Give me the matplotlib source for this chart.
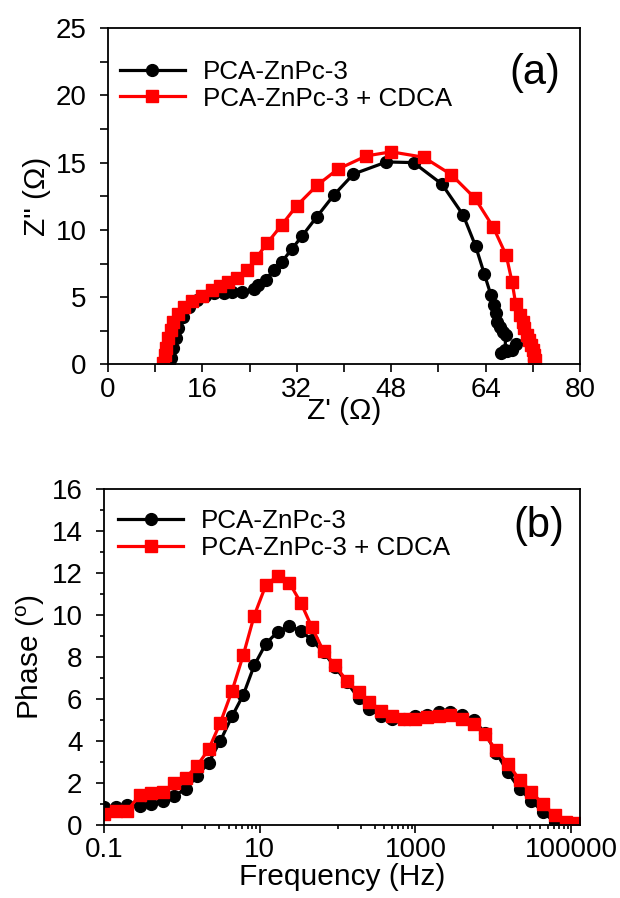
import matplotlib
matplotlib.use('Agg')
import matplotlib.pyplot as plt
from matplotlib.ticker import MultipleLocator, FixedLocator, FixedFormatter, NullFormatter

plt.rcParams['font.family'] = ['Liberation Sans', 'DejaVu Sans']

# (a) Nyquist data
zre_blk = [10.3, 10.7, 11.1, 11.5, 11.9, 12.7, 13.8, 15.0, 16.5, 17.9, 19.6, 21.0, 22.7, 24.7,
           25.5, 26.7, 28.1, 29.5, 31.2, 32.9, 35.4, 38.3, 41.6, 47.2, 51.8, 56.6, 60.2, 62.3,
           63.8, 64.9, 65.4, 65.7, 66.0, 66.5, 66.9, 67.4, 67.3, 66.6, 67.6, 68.5, 69.1]
zim_blk = [0.0, 0.5, 1.25, 2.0, 2.7, 3.5, 4.3, 4.8, 5.1, 5.3, 5.3, 5.35, 5.35, 5.6,
           5.9, 6.3, 7.0, 7.65, 8.6, 9.55, 10.98, 12.6, 14.15, 15.05, 15.0, 13.4, 11.1, 8.8,
           6.7, 5.16, 4.42, 3.8, 3.18, 2.81, 2.44, 2.19, 1.1, 0.83, 0.98, 1.1, 1.52]
zre_red = [9.4, 9.7, 9.9, 10.25, 10.6, 11.1, 11.9, 12.9, 14.3, 15.9, 17.6, 18.9, 20.4, 21.85,
           23.55, 25.1, 26.95, 29.5, 32.0, 35.4, 38.9, 43.8, 48.0, 53.5, 58.2, 62.2, 65.3,
           67.5, 68.5, 69.1, 69.9, 70.3, 70.5, 71.1, 71.4, 71.7, 72.1, 72.2, 72.4, 72.2]
zim_red = [0.1, 0.7, 1.25, 1.95, 2.6, 3.15, 3.75, 4.3, 4.7, 5.1, 5.55, 5.85, 6.15, 6.4,
           7.0, 7.9, 9.0, 10.4, 11.8, 13.3, 14.5, 15.5, 15.8, 15.4, 14.1, 12.35, 10.2,
           8.1, 6.1, 4.5, 3.68, 3.18, 2.69, 2.19, 1.82, 1.45, 1.08, 0.71, 0.33, 0.0]

# (b) Bode phase data
freq = [0.1, 0.141, 0.2, 0.288, 0.403, 0.568, 0.80, 1.13, 1.57, 2.21,
        3.12, 4.41, 6.17, 8.51, 12.0, 17.0, 24.0, 33.9, 46.8, 66.1,
        93.3, 132, 186, 257, 363, 501, 708, 1000, 1413, 1995,
        2818, 3981, 5623, 7762, 10965, 15488, 21878, 30903, 43652, 61660,
        85114, 117490]
phase_blk = [0.85, 0.88, 0.93, 0.9, 1.0, 1.16, 1.4, 1.71, 2.34, 2.97,
             4.0, 5.17, 6.2, 7.6, 8.63, 9.2, 9.46, 9.26, 8.79, 8.24,
             7.5, 6.8, 6.04, 5.53, 5.17, 5.06, 5.06, 5.17, 5.25, 5.38,
             5.38, 5.22, 5.01, 4.39, 3.44, 2.5, 1.71, 1.16, 0.61, 0.14]
phase_red = [0.53, 0.69, 0.69, 1.43, 1.51, 1.56, 1.98, 2.26, 2.82, 3.6,
             4.86, 6.38, 8.1, 9.97, 11.42, 11.86, 11.54, 10.57, 9.42, 8.27,
             7.6, 6.85, 6.32, 5.88, 5.44, 5.17, 5.06, 5.06, 5.13, 5.17,
             5.25, 5.06, 4.81, 4.31, 3.55, 2.92, 2.14, 1.56, 1.0, 0.46,
             0.14, 0.1]

lab_blk = 'PCA-ZnPc-3'
lab_red = 'PCA-ZnPc-3 + CDCA'
red = '#ff0000'

fig = plt.figure(figsize=(6.2, 8.98), dpi=100)
ax1 = fig.add_axes([0.1742, 0.5941, 0.7613, 0.3747])
ax2 = fig.add_axes([0.1677, 0.0813, 0.7677, 0.3742])

lw = 2.3
ms = 8.5
tfs = 20
lfs = 21.5

# panel (a)
ax1.plot(zre_blk, zim_blk, '-o', color='black', lw=lw, ms=ms, label=lab_blk)
ax1.plot(zre_red, zim_red, '-s', color=red, lw=lw, ms=ms, label=lab_red)
ax1.set_xlim(0, 80)
ax1.set_ylim(0, 25)
ax1.xaxis.set_major_locator(MultipleLocator(16))
ax1.xaxis.set_minor_locator(MultipleLocator(8))
ax1.yaxis.set_major_locator(MultipleLocator(5))
ax1.yaxis.set_minor_locator(MultipleLocator(2.5))
ax1.tick_params(which='both', direction='out', length=5.5, width=1.2, labelsize=tfs)
ax1.tick_params(axis='y', which='both', pad=10)
ax1.set_xlabel("Z' (\u03a9)", fontsize=lfs, labelpad=-4)
ax1.set_ylabel('Z" (\u03a9)', fontsize=lfs, labelpad=3)
ax1.text(0.905, 0.866, '(a)', transform=ax1.transAxes, fontsize=30, ha='center', va='center')
ax1.legend(loc='upper left', bbox_to_anchor=(0.025, 0.905), frameon=False, fontsize=18.7,
           handlelength=2.5, handletextpad=0.7, labelspacing=0.1, borderpad=0, borderaxespad=0)

# panel (b)
ax2.plot(freq[:len(phase_blk)], phase_blk, '-o', color='black', lw=lw, ms=ms, label=lab_blk)
ax2.plot(freq[:len(phase_red)], phase_red, '-s', color=red, lw=lw, ms=ms, label=lab_red)
ax2.set_xscale('log')
ax2.set_xlim(0.1, 1.3e5)
ax2.set_ylim(0, 16)
major = [0.1, 10, 1000, 100000]
ax2.xaxis.set_major_locator(FixedLocator(major))
ax2.xaxis.set_major_formatter(FixedFormatter(['0.1', '10', '1000', '100000']))
minor = [m * d for d in (1, 100, 10000) for m in range(1, 10)]
ax2.xaxis.set_minor_locator(FixedLocator(minor))
ax2.xaxis.set_minor_formatter(NullFormatter())
ax2.yaxis.set_major_locator(MultipleLocator(2))
ax2.yaxis.set_minor_locator(MultipleLocator(1))
ax2.tick_params(which='major', direction='out', length=5.5, width=1.2, labelsize=tfs)
ax2.tick_params(which='minor', direction='out', length=3.2, width=1.2)
ax2.tick_params(axis='x', which='major', pad=3)
ax2.tick_params(axis='y', which='major', pad=10)
ax2.set_xlabel('Frequency (Hz)', fontsize=lfs, labelpad=0)
ax2.set_ylabel(r'Phase ($\mathregular{^o}$)', fontsize=lfs, labelpad=3)
ax2.text(0.914, 0.891, '(b)', transform=ax2.transAxes, fontsize=30, ha='center', va='center')
ax2.legend(loc='upper left', bbox_to_anchor=(0.03, 0.94), frameon=False, fontsize=18.7,
           handlelength=2.5, handletextpad=0.7, labelspacing=0.1, borderpad=0, borderaxespad=0)

for ax in (ax1, ax2):
    for s in ax.spines.values():
        s.set_linewidth(1.3)

fig.savefig('out.png', dpi=100)
